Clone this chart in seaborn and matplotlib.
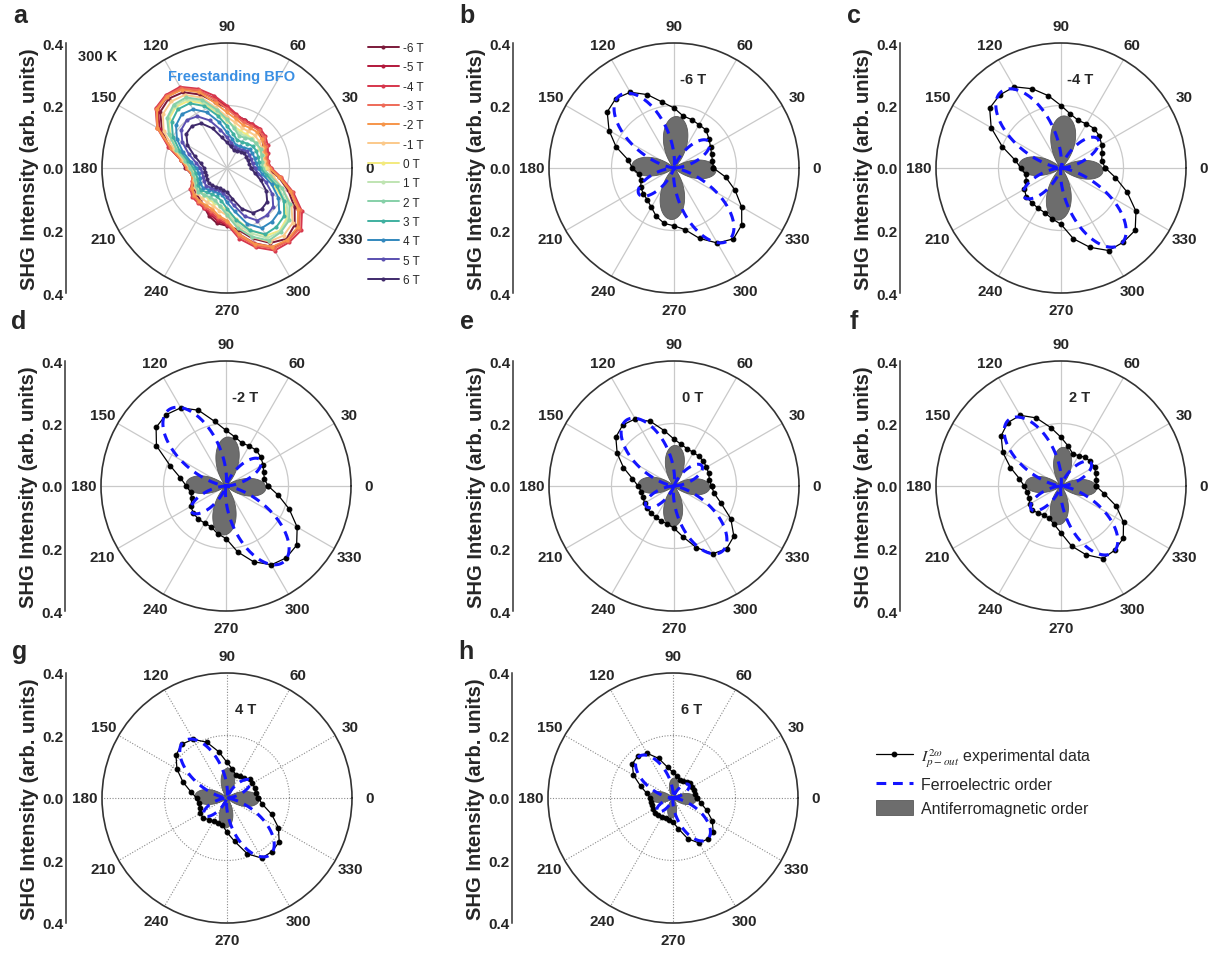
import numpy as np
import matplotlib
matplotlib.use("Agg")
import matplotlib.pyplot as plt
import seaborn as sns

# ---------------- data ----------------
angles_deg = list(range(0, 360, 10))
fields = ["-6 T", "-5 T", "-4 T", "-3 T", "-2 T", "-1 T", "0 T",
          "1 T", "2 T", "3 T", "4 T", "5 T", "6 T"]
field_colors = ["#7b1a3a", "#b2183b", "#d6364c", "#ee6a58", "#f6954a", "#fbc98a",
                "#f3ea7e", "#bfe4b2", "#86d0a8", "#3fb0a0", "#3288bd", "#5a4fb0", "#3f2a6b"]

exp_m6 = [0.126, 0.125, 0.128, 0.135, 0.146, 0.159, 0.160, 0.165, 0.169, 0.192, 0.214, 0.250,
          0.280, 0.290, 0.279, 0.240, 0.197, 0.149, 0.133, 0.114, 0.112, 0.123, 0.128, 0.133,
          0.145, 0.165, 0.180, 0.185, 0.200, 0.240, 0.277, 0.296, 0.283, 0.250, 0.208, 0.168]
exp_m5 = [0.134, 0.129, 0.135, 0.143, 0.152, 0.161, 0.162, 0.163, 0.172, 0.196, 0.226, 0.262,
          0.291, 0.298, 0.288, 0.249, 0.199, 0.150, 0.131, 0.115, 0.116, 0.129, 0.137, 0.139,
          0.146, 0.158, 0.172, 0.183, 0.214, 0.256, 0.292, 0.304, 0.297, 0.264, 0.216, 0.173]
exp_m4 = [0.142, 0.132, 0.140, 0.150, 0.160, 0.165, 0.163, 0.162, 0.175, 0.200, 0.235, 0.270,
          0.300, 0.305, 0.298, 0.258, 0.200, 0.150, 0.128, 0.115, 0.118, 0.135, 0.145, 0.145,
          0.148, 0.152, 0.165, 0.180, 0.230, 0.270, 0.305, 0.310, 0.310, 0.277, 0.225, 0.177]
exp_m3 = [0.139, 0.129, 0.134, 0.143, 0.153, 0.158, 0.156, 0.155, 0.168, 0.190, 0.222, 0.265,
          0.295, 0.302, 0.295, 0.258, 0.195, 0.149, 0.128, 0.115, 0.117, 0.132, 0.140, 0.142,
          0.143, 0.146, 0.160, 0.174, 0.222, 0.264, 0.298, 0.305, 0.302, 0.270, 0.220, 0.174]
exp_m2 = [0.135, 0.125, 0.128, 0.137, 0.145, 0.150, 0.148, 0.147, 0.160, 0.178, 0.210, 0.258,
          0.289, 0.298, 0.292, 0.257, 0.190, 0.148, 0.127, 0.115, 0.116, 0.130, 0.136, 0.138,
          0.137, 0.139, 0.155, 0.168, 0.214, 0.258, 0.291, 0.300, 0.295, 0.263, 0.215, 0.170]
exp_m1 = [0.128, 0.120, 0.123, 0.129, 0.134, 0.137, 0.136, 0.137, 0.148, 0.164, 0.195, 0.240,
          0.270, 0.278, 0.268, 0.234, 0.181, 0.142, 0.121, 0.110, 0.111, 0.119, 0.124, 0.126,
          0.127, 0.129, 0.139, 0.152, 0.190, 0.235, 0.272, 0.282, 0.274, 0.238, 0.188, 0.150]
exp_0 = [0.120, 0.115, 0.118, 0.120, 0.123, 0.124, 0.124, 0.126, 0.135, 0.150, 0.180, 0.220,
         0.248, 0.255, 0.243, 0.210, 0.172, 0.135, 0.115, 0.106, 0.106, 0.108, 0.112, 0.114,
         0.116, 0.119, 0.123, 0.135, 0.165, 0.210, 0.250, 0.262, 0.250, 0.210, 0.160, 0.130]
exp_p1 = [0.116, 0.115, 0.118, 0.122, 0.123, 0.122, 0.118, 0.118, 0.133, 0.153, 0.185, 0.226,
          0.255, 0.260, 0.247, 0.212, 0.172, 0.135, 0.116, 0.108, 0.107, 0.111, 0.116, 0.113,
          0.112, 0.115, 0.124, 0.142, 0.180, 0.222, 0.259, 0.265, 0.255, 0.220, 0.174, 0.135]
exp_p2 = [0.112, 0.115, 0.118, 0.124, 0.122, 0.120, 0.112, 0.110, 0.130, 0.156, 0.190, 0.232,
          0.261, 0.265, 0.250, 0.215, 0.172, 0.135, 0.118, 0.110, 0.109, 0.115, 0.120, 0.113,
          0.108, 0.110, 0.125, 0.150, 0.195, 0.234, 0.268, 0.268, 0.260, 0.231, 0.188, 0.140]
exp_p3 = [0.106, 0.104, 0.106, 0.109, 0.108, 0.102, 0.096, 0.095, 0.112, 0.135, 0.170, 0.211,
          0.239, 0.245, 0.231, 0.200, 0.161, 0.126, 0.107, 0.101, 0.100, 0.106, 0.110, 0.101,
          0.097, 0.097, 0.106, 0.130, 0.168, 0.212, 0.245, 0.246, 0.239, 0.210, 0.170, 0.128]
exp_p4 = [0.100, 0.094, 0.094, 0.094, 0.094, 0.085, 0.080, 0.080, 0.095, 0.114, 0.150, 0.190,
          0.217, 0.225, 0.213, 0.185, 0.150, 0.118, 0.097, 0.092, 0.092, 0.098, 0.100, 0.090,
          0.086, 0.085, 0.087, 0.110, 0.141, 0.190, 0.222, 0.224, 0.218, 0.190, 0.152, 0.115]
exp_p5 = [0.088, 0.083, 0.082, 0.083, 0.083, 0.076, 0.071, 0.071, 0.082, 0.098, 0.125, 0.162,
          0.191, 0.200, 0.191, 0.165, 0.130, 0.101, 0.085, 0.081, 0.081, 0.085, 0.088, 0.082,
          0.078, 0.076, 0.080, 0.093, 0.120, 0.164, 0.194, 0.198, 0.193, 0.168, 0.133, 0.102]
exp_p6 = [0.077, 0.073, 0.071, 0.072, 0.073, 0.068, 0.063, 0.062, 0.070, 0.082, 0.100, 0.135,
          0.165, 0.175, 0.170, 0.146, 0.110, 0.085, 0.073, 0.070, 0.070, 0.073, 0.076, 0.073,
          0.070, 0.068, 0.072, 0.077, 0.100, 0.139, 0.166, 0.172, 0.168, 0.145, 0.115, 0.090]
exp_all = [exp_m6, exp_m5, exp_m4, exp_m3, exp_m2, exp_m1, exp_0,
           exp_p1, exp_p2, exp_p3, exp_p4, exp_p5, exp_p6]

# panels b-h: field shown, fit parameters (lobe peak intensities and orientation)
panel_letters = ["b", "c", "d", "e", "f", "g", "h"]
panel_fields = ["-6 T", "-4 T", "-2 T", "0 T", "2 T", "4 T", "6 T"]
fe_main_peak = [0.290, 0.310, 0.305, 0.260, 0.270, 0.228, 0.172]
fe_side_peak = [0.140, 0.150, 0.138, 0.110, 0.121, 0.092, 0.066]
fe_angle = [127, 128, 127, 126, 128, 127, 130]
afm_vert_peak = [0.165, 0.167, 0.157, 0.130, 0.124, 0.096, 0.064]
afm_horiz_peak = [0.135, 0.135, 0.128, 0.115, 0.114, 0.103, 0.075]
afm_angle = [-3, -4, -3, -2, -4, -3, -4]
afm_exponent = 1.5

theta_labels = [str(a) for a in range(0, 360, 30)]
r_tick_labels = ["0.4", "0.2", "0.0", "0.2", "0.4"]

# ---------------- style ----------------
sns.set_style("white")
plt.rcParams["font.family"] = ["Liberation Sans", "DejaVu Sans"]
plt.rcParams["mathtext.fontset"] = "stix"

W, H = 1211, 954
R = 125
fig = plt.figure(figsize=(W / 100, H / 100), dpi=100)

centers = {"a": (227, 169), "b": (674, 169), "c": (1061, 169),
           "d": (226, 487), "e": (674, 487), "f": (1061, 487),
           "g": (227, 799), "h": (673, 799)}


def make_panel(letter, dotted=False):
    cx, cy = centers[letter]
    ax = fig.add_axes([(cx - R) / W, (H - cy - R) / H, 2 * R / W, 2 * R / H],
                      projection="polar")
    ax.set_ylim(0, 0.4)
    ax.set_yticks([0.2])
    ax.set_yticklabels([])
    ax.set_thetagrids(range(0, 360, 30), labels=theta_labels,
                      fontsize=11, fontweight="bold")
    ax.tick_params(axis="x", pad=2)
    if dotted:
        ax.grid(True, color="#8a8a8a", lw=0.8, ls=(0, (1, 1.5)))
    else:
        ax.grid(True, color="#c9c9c9", lw=0.9, ls="-")
    ax.spines["polar"].set_color("#333333")
    ax.spines["polar"].set_linewidth(1.2)
    ax.set_facecolor("white")
    # left intensity scale
    axl = fig.add_axes([(cx - 161) / W, (H - cy - R) / H, 0.0005, 2 * R / H])
    axl.set_ylim(-0.4, 0.4)
    axl.set_yticks([0.4, 0.2, 0.0, -0.2, -0.4])
    axl.set_yticklabels(r_tick_labels, fontsize=11, fontweight="bold")
    axl.set_xticks([])
    for s in ["top", "right", "bottom"]:
        axl.spines[s].set_visible(False)
    axl.spines["left"].set_color("#333333")
    axl.spines["left"].set_linewidth(1.1)
    axl.tick_params(axis="y", direction="in", length=4, width=1.1, color="#333333", pad=2)
    axl.set_ylabel("SHG Intensity (arb. units)", fontsize=14.5, fontweight="bold", labelpad=2)
    axl.patch.set_alpha(0)
    fig.text((cx - 207) / W, 1 - (16 if cy < 300 else (322 if cy < 600 else 652)) / H,
             letter, fontsize=18, fontweight="bold", ha="center", va="center")
    return ax


def closed(vals):
    th = np.deg2rad(np.array(angles_deg + [360]))
    r = np.array(list(vals) + [vals[0]])
    return th, r


# ---------------- panel a ----------------
ax_a = make_panel("a")
for name, vals, col in zip(fields, exp_all, field_colors):
    th, r = closed(vals)
    sns.lineplot(x=th, y=r, ax=ax_a, sort=False, estimator=None, color=col, lw=1.4,
                 marker="o", markersize=2.2, markeredgecolor=col, label=name)
ax_a.set_xlabel("")
ax_a.set_ylabel("")
ax_a.legend(loc="upper left", bbox_to_anchor=(368 / W, 1 - 43 / H),
            bbox_transform=fig.transFigure, frameon=False, fontsize=8.5,
            handlelength=2.6, handletextpad=0.4, labelspacing=0.62,
            borderpad=0, borderaxespad=0)
ax_a.text(0.5 + (98 - 227) / 250, 0.5 + (169 - 57) / 250, "300 K", transform=ax_a.transAxes,
          ha="center", va="center", fontsize=10.5, fontweight="bold")
ax_a.text(0.5 + (232 - 227) / 250, 0.5 + (169 - 77) / 250, "Freestanding BFO",
          transform=ax_a.transAxes, ha="center", va="center", fontsize=10.5,
          fontweight="bold", color="#3a8fe3")

# ---------------- panels b-h ----------------
theta_f = np.linspace(0, 2 * np.pi, 721)
handles = None
for i, letter in enumerate(panel_letters):
    ax = make_panel(letter, dotted=letter in ("g", "h"))
    # antiferromagnetic order (four lobes)
    c_ = afm_horiz_peak[i] ** (1 / afm_exponent)
    d_ = afm_vert_peak[i] ** (1 / afm_exponent)
    ph = theta_f - np.deg2rad(afm_angle[i])
    r_afm = np.abs(c_ * np.cos(ph) ** 2 - d_ * np.sin(ph) ** 2) ** afm_exponent
    afm_patch = ax.fill(theta_f, r_afm, color="#6d6d6d", ec="#5a5a5a", lw=0.6, zorder=2)[0]
    # experimental data
    vals = exp_all[fields.index(panel_fields[i])]
    th, r = closed(vals)
    sns.lineplot(x=th, y=r, ax=ax, sort=False, estimator=None, color="black", lw=0.9,
                 marker="o", markersize=3.4, markeredgecolor="black", zorder=3)
    exp_line = ax.get_lines()[-1]
    # ferroelectric order
    a_ = np.sqrt(fe_main_peak[i])
    b_ = np.sqrt(fe_side_peak[i])
    ps = theta_f - np.deg2rad(fe_angle[i])
    r_fe = (a_ * np.cos(ps) ** 2 - b_ * np.sin(ps) ** 2) ** 2
    fe_line = ax.plot(theta_f, r_fe, color="#1414ff", lw=2.2, ls=(0, (3.2, 2.2)), zorder=4)[0]
    ax.set_xlabel("")
    ax.set_ylabel("")
    ax.text(0.575, 0.855, panel_fields[i], transform=ax.transAxes, ha="center", va="center",
            fontsize=10.5, fontweight="bold")
    handles = [exp_line, fe_line, afm_patch]

fig.legend(handles,
           [r"$I_{p-out}^{2\omega}$ experimental data", "Ferroelectric order",
            "Antiferromagnetic order"],
           loc="upper left", bbox_to_anchor=(876 / W, 1 - 747 / H), frameon=False,
           fontsize=11.5, handlelength=2.3, handleheight=1.0, handletextpad=0.5,
           labelspacing=0.5, borderpad=0, borderaxespad=0)

fig.savefig("out.png", dpi=100, facecolor="white")
